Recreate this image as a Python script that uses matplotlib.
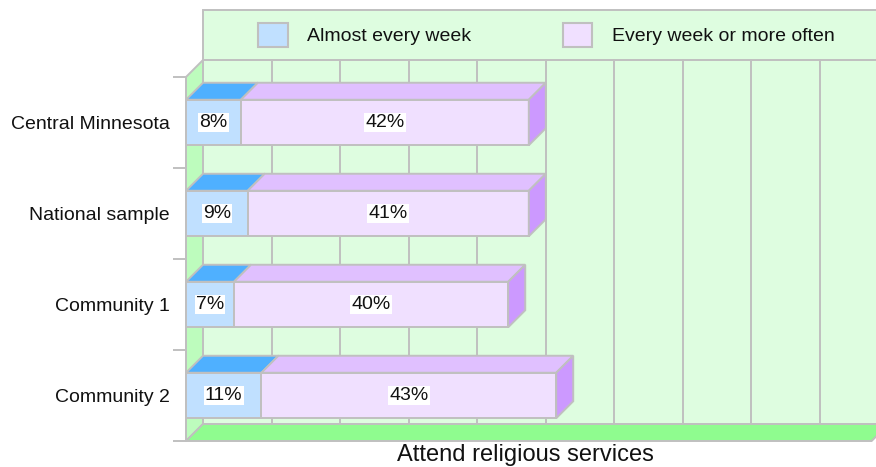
import matplotlib.pyplot as plt
from matplotlib.patches import Polygon, Rectangle, Patch

plt.rcParams['font.family'] = ['Liberation Sans', 'DejaVu Sans']

categories = ['Central Minnesota', 'National sample', 'Community 1', 'Community 2']
almost_weekly = [8, 9, 7, 11]
weekly_plus = [42, 41, 40, 43]
series_names = ['Almost every week', 'Every week or more often']

# colours
gray = '#c0c0c0'
wall_c = '#defde0'
side_wall_c = '#bdfcbd'
floor_c = '#8ffc8f'
blue_front, blue_top = '#c0e0ff', '#4fb0ff'
purp_front, purp_top, purp_side = '#f0e0ff', '#e0c0ff', '#cc99ff'

W, H = 876, 467
fig = plt.figure(figsize=(W / 100, H / 100), dpi=100)
ax = fig.add_axes([186 / W, 26 / H, 685.6 / W, 364 / H])
ax.set_xlim(0, 100)
ax.set_ylim(-0.5, 3.5)
ax.patch.set_visible(False)

# 3d depth in data units (17 px each way)
dx = 17 / 6.856
dy = 17 / 91
lw = 1.4
ypos = [len(categories) - 1 - i for i in range(len(categories))]

# back wall, legend band, grid
ax.add_patch(Rectangle((dx, -0.5 + dy), 110, 4, fc=wall_c, ec=gray, lw=lw,
                       clip_on=False, zorder=0.5))
ax.add_patch(Rectangle((dx, 3.5 + dy), 110, 50 / 91, fc=wall_c, ec=gray, lw=lw,
                       clip_on=False, zorder=0.5))
for k in range(11):
    ax.plot([k * 10 + dx] * 2, [-0.5 + dy, 3.5 + dy], color=gray, lw=lw,
            clip_on=False, zorder=0.6)

# left wall and floor
ax.add_patch(Polygon([(0, -0.5), (0, 3.5), (dx, 3.5 + dy), (dx, -0.5 + dy)],
                     closed=True, fc=side_wall_c, ec=gray, lw=lw,
                     clip_on=False, zorder=0.7))
ax.add_patch(Polygon([(0, -0.5), (100, -0.5), (100 + dx, -0.5 + dy), (dx, -0.5 + dy)],
                     closed=True, fc=floor_c, ec=gray, lw=lw,
                     clip_on=False, zorder=0.8))

# bars
h = 0.5
ax.barh(ypos, almost_weekly, height=h, color=blue_front, edgecolor=gray,
        lw=lw, zorder=3)
ax.barh(ypos, weekly_plus, left=almost_weekly, height=h, color=purp_front,
        edgecolor=gray, lw=lw, zorder=3)

for y, a, b in zip(ypos, almost_weekly, weekly_plus):
    top = y + h / 2
    bot = y - h / 2
    for left, width, c in [(0, a, blue_top), (a, b, purp_top)]:
        ax.add_patch(Polygon([(left, top), (left + width, top),
                              (left + width + dx, top + dy), (left + dx, top + dy)],
                             closed=True, fc=c, ec=gray, lw=lw, zorder=3,
                             clip_on=False))
    right = a + b
    ax.add_patch(Polygon([(right, bot), (right + dx, bot + dy),
                          (right + dx, top + dy), (right, top)],
                         closed=True, fc=purp_side, ec=gray, lw=lw, zorder=3,
                         clip_on=False))
    for left, v in [(0, a), (a, b)]:
        ax.text(left + v / 2, y, f'{v}%', ha='center', va='center',
                fontsize=14, color='#111111', zorder=5,
                bbox=dict(fc='white', ec='none', pad=0.8))

# axes / ticks
ax.set_xticks([])
ax.set_yticks([-0.5, 0.5, 1.5, 2.5, 3.5], labels=[''] * 5)
ax.set_yticks(ypos, labels=categories, minor=True)
ax.tick_params(axis='y', which='major', length=9.4, width=lw, color=gray)
ax.tick_params(axis='y', which='minor', length=0, pad=11.5, labelsize=14,
               labelcolor='#111111')
for s in ['top', 'right', 'bottom']:
    ax.spines[s].set_visible(False)
ax.spines['left'].set_color(gray)
ax.spines['left'].set_linewidth(lw)
ax.spines['left'].set_zorder(4)

ax.set_xlabel('Attend religious services', fontsize=17, color='#111111')
ax.xaxis.set_label_coords((525 - 186) / 685.6, -0.009)

handles = [Patch(fc=blue_front, ec=gray, lw=1.5, label=series_names[0]),
           Patch(fc=purp_front, ec=gray, lw=1.5, label=series_names[1])]
leg = ax.legend(handles=handles, loc='center left',
                bbox_to_anchor=(72 / 685.6, (441 - 35) / 364), ncol=2,
                frameon=False, fontsize=14, handlelength=1.54, handleheight=1.54,
                handletextpad=0.98, columnspacing=4.7, borderpad=0,
                borderaxespad=0)
for t in leg.get_texts():
    t.set_color('#111111')

fig.savefig('out.png', dpi=100)
